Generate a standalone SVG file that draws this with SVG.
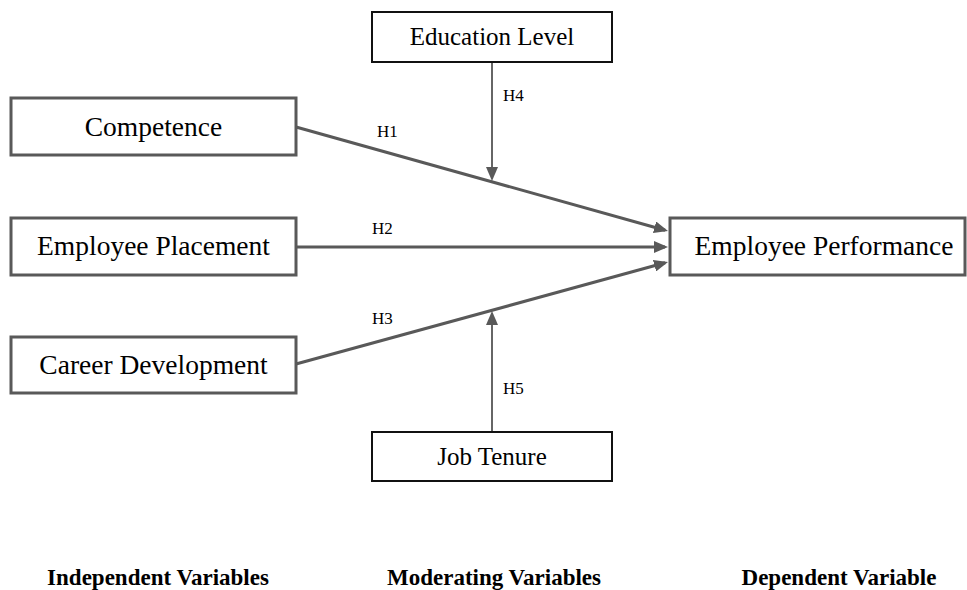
<svg xmlns="http://www.w3.org/2000/svg" width="967" height="590" viewBox="0 0 967 590">
<style>
  .box { fill: #ffffff; stroke: #595959; stroke-width: 3; }
  .mbox { fill: #ffffff; stroke: #111111; stroke-width: 2; }
  .lbl { font-family: "Liberation Serif", "Times New Roman", serif; font-size: 27.5px; fill: #000; text-anchor: middle; }
  .mlbl { font-family: "Liberation Serif", "Times New Roman", serif; font-size: 25px; fill: #000; text-anchor: middle; }
  .h { font-family: "Liberation Serif", "Times New Roman", serif; font-size: 17px; fill: #000; }
  .cap { font-family: "Liberation Serif", "Times New Roman", serif; font-size: 23px; font-weight: bold; fill: #000; text-anchor: middle; }
  .conn { stroke: #595959; stroke-width: 3; fill: none; }
  .vconn { stroke: #666666; stroke-width: 2; fill: none; }
</style>
<defs>
  <marker id="arr" markerUnits="userSpaceOnUse" viewBox="0 0 14 12" markerWidth="14" markerHeight="12" refX="11" refY="6" orient="auto">
    <path d="M0,0 L14,6 L0,12 Z" fill="#595959"/>
  </marker>
</defs>
<rect width="967" height="590" fill="#ffffff"/>

<g id="connectors">
  <line class="conn" x1="296" y1="127" x2="665.1" y2="230.2" marker-end="url(#arr)"/>
  <line class="conn" x1="296" y1="247" x2="665" y2="247" marker-end="url(#arr)"/>
  <line class="conn" x1="296" y1="364" x2="665.1" y2="262.8" marker-end="url(#arr)"/>
  <line class="vconn" x1="492" y1="62" x2="492" y2="178" marker-end="url(#arr)"/>
  <line class="vconn" x1="492" y1="432" x2="492" y2="314" marker-end="url(#arr)"/>
  <text class="h" x="377" y="137">H1</text>
  <text class="h" x="372" y="234">H2</text>
  <text class="h" x="372" y="324">H3</text>
  <text class="h" x="503" y="101">H4</text>
  <text class="h" x="503" y="394">H5</text>
</g>

<g id="competence">
  <rect class="box" x="11" y="98" width="285" height="57"/>
  <text class="lbl" x="153.5" y="135.5">Competence</text>
</g>
<g id="employee-placement">
  <rect class="box" x="11" y="218" width="285" height="57"/>
  <text class="lbl" x="153.5" y="255">Employee Placement</text>
</g>
<g id="career-development">
  <rect class="box" x="11" y="337" width="285" height="56"/>
  <text class="lbl" x="153.5" y="373.5">Career Development</text>
</g>
<g id="education-level">
  <rect class="mbox" x="372" y="12" width="240" height="50"/>
  <text class="mlbl" x="492" y="45">Education Level</text>
</g>
<g id="job-tenure">
  <rect class="mbox" x="372" y="432" width="240" height="49"/>
  <text class="mlbl" x="492" y="465">Job Tenure</text>
</g>
<g id="employee-performance">
  <rect class="box" x="670" y="218" width="295" height="57"/>
  <text class="lbl" x="824" y="254.5">Employee Performance</text>
</g>

<g id="captions">
  <text class="cap" x="158" y="585">Independent Variables</text>
  <text class="cap" x="494" y="585">Moderating Variables</text>
  <text class="cap" x="839" y="585">Dependent Variable</text>
</g>
</svg>
